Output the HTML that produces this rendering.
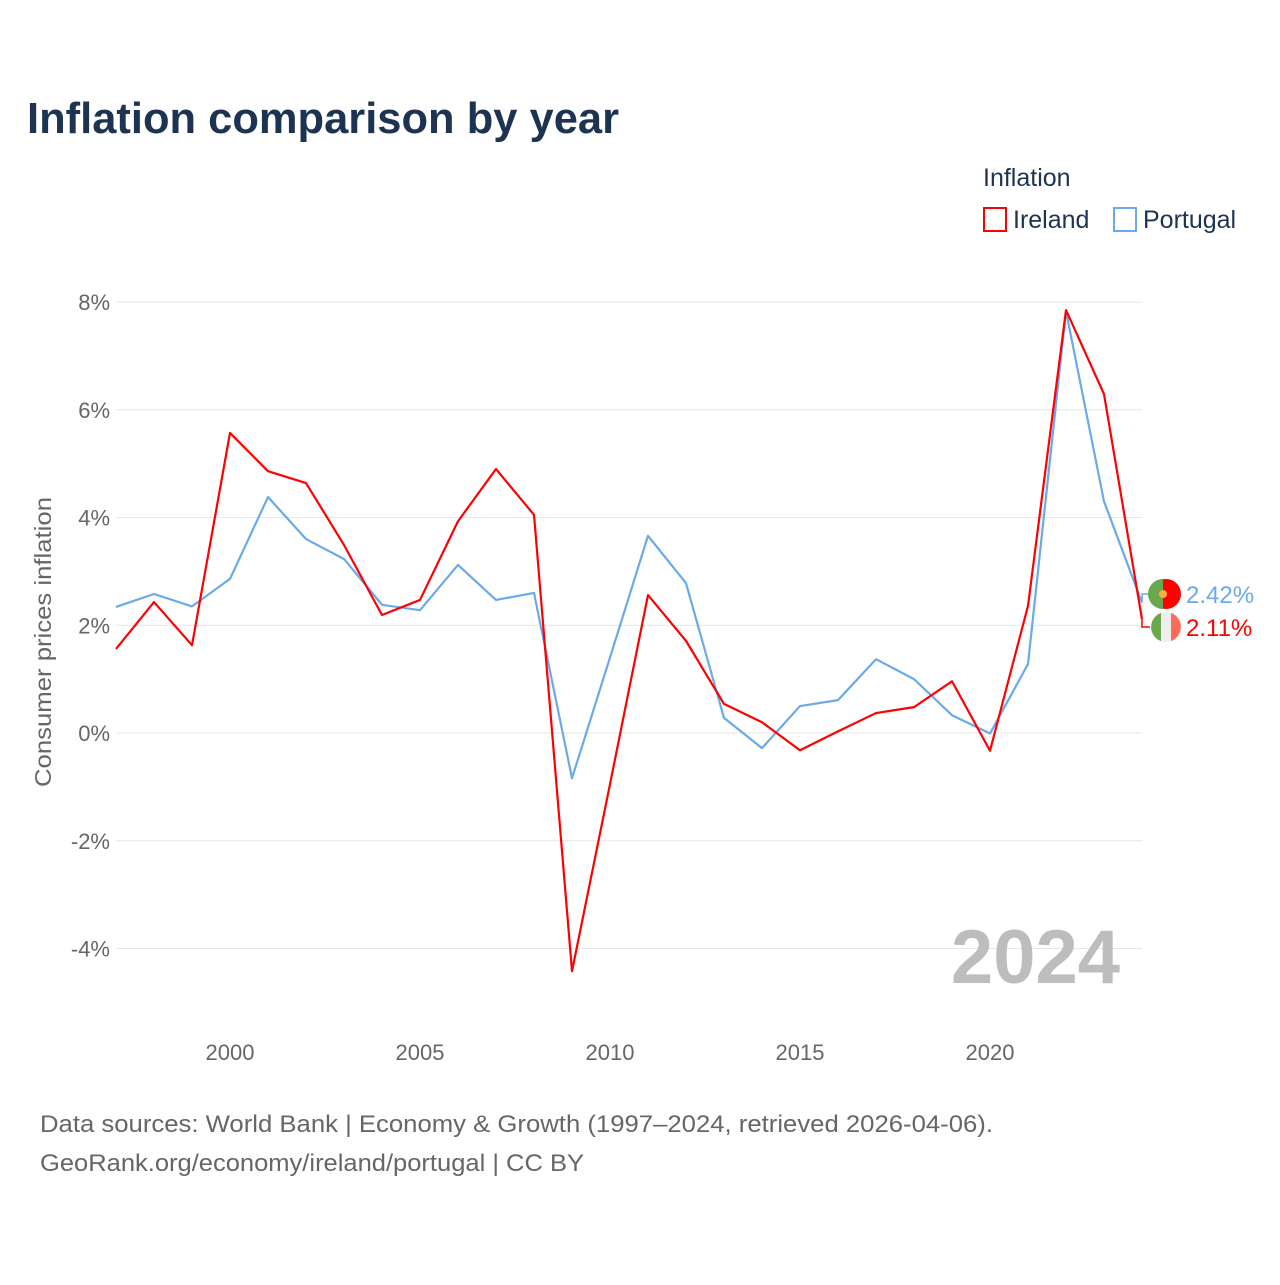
<!DOCTYPE html>
<html><head><meta charset="utf-8"><style>
body{margin:0;background:#fff;width:1280px;height:1280px;overflow:hidden;font-family:"Liberation Sans",sans-serif}
</style></head><body>
<svg id="chart" width="1280" height="1280" xmlns="http://www.w3.org/2000/svg">
<text x="27" y="133" font-size="44" font-weight="bold" fill="#1c3352" textLength="592" lengthAdjust="spacingAndGlyphs">Inflation comparison by year</text>
<text x="983" y="186" font-size="25" fill="#1c3352">Inflation</text>
<g><rect x="984" y="208" width="22" height="23" fill="none" stroke="#ff0000" stroke-width="2"/><text x="1013" y="228" font-size="25" fill="#1c3352">Ireland</text></g>
<g><rect x="1114" y="208" width="22" height="23" fill="none" stroke="#6aa9ea" stroke-width="2"/><text x="1143" y="228" font-size="25" fill="#1c3352">Portugal</text></g>
<g id="grid"></g><g id="xt"></g><g id="lines"></g>
<text transform="translate(51,642) rotate(-90)" text-anchor="middle" font-size="23" fill="#666" textLength="290" lengthAdjust="spacingAndGlyphs">Consumer prices inflation</text>
<text x="1120" y="983" text-anchor="end" font-size="76" font-weight="bold" fill="#bdbdbd">2024</text>
<text x="40" y="1132" font-size="24" fill="#666" textLength="953" lengthAdjust="spacingAndGlyphs">Data sources: World Bank | Economy &amp; Growth (1997–2024, retrieved 2026-04-06).</text>
<text x="40" y="1171" font-size="24" fill="#666" textLength="544" lengthAdjust="spacingAndGlyphs">GeoRank.org/economy/ireland/portugal | CC BY</text>
</svg>
<script>
const years=[1997,1998,1999,2000,2001,2002,2003,2004,2005,2006,2007,2008,2009,2010,2011,2012,2013,2014,2015,2016,2017,2018,2019,2020,2021,2022,2023,2024];
const ireland=[1.56,2.43,1.63,5.57,4.86,4.64,3.49,2.19,2.47,3.93,4.90,4.05,-4.42,-0.95,2.56,1.71,0.54,0.20,-0.32,0.03,0.37,0.48,0.96,-0.33,2.36,7.85,6.29,2.11];
const portugal=[2.34,2.58,2.35,2.86,4.38,3.60,3.23,2.38,2.28,3.12,2.47,2.60,-0.84,1.40,3.66,2.78,0.28,-0.28,0.50,0.61,1.37,1.00,0.33,-0.01,1.28,7.83,4.30,2.42];
const yTicks=[8,6,4,2,0,-2,-4];
const xTicks=[2000,2005,2010,2015,2020];
const NS="http://www.w3.org/2000/svg";
const X=v=>116+(v-1997)*38, Y=v=>733-v*53.875;
function mk(t,a,p){const e=document.createElementNS(NS,t);for(const k in a)e.setAttribute(k,a[k]);p.appendChild(e);return e;}
const g=document.getElementById('grid');
yTicks.forEach(t=>{
 const l=mk('line',{x1:116,x2:1142,y1:Y(t),y2:Y(t),stroke:'#e6e6e6','stroke-width':1},g);
 
 
 const tx=mk('text',{x:110,y:Y(t)+8,'text-anchor':'end','font-size':22,fill:'#666'},g);
 tx.textContent=t+'%';
 
 
});
const xt=document.getElementById('xt');
xTicks.forEach(t=>{
 const tx=mk('text',{x:X(t),y:1060,'text-anchor':'middle','font-size':22,fill:'#666'},xt);
 tx.textContent=t;
 
 
});
const L=document.getElementById('lines');
function series(vals,col,name){
 const p=mk('polyline',{points:vals.map((v,i)=>X(years[i])+','+Y(v)).join(' '),fill:'none',stroke:col,'stroke-width':2.2,'stroke-linejoin':'round'},L);
 
 
}
series(portugal,'#6aa9ea','portugal');
series(ireland,'#ff0000','ireland');
function endLabel(v,ly,col,name,flag){
 const x=X(2024),y=Y(v);
 mk('polyline',{points:`${x},${y} ${x},${ly} ${x+8},${ly}`,fill:'none',stroke:col,'stroke-width':1.5},L);
 const fg=mk('g',{},L);
 
 
 const cx=1166;
 if(flag==='pt'){mk('circle',{cx:cx,cy:ly,r:15,fill:'#ff0000'},fg);mk('path',{d:`M${cx-3},${ly-15} A15,15 0 0,0 ${cx-3},${ly+15} Z`,fill:'#6aa84f'},fg);mk('circle',{cx:cx-3,cy:ly,r:4,fill:'#f5b041'},fg);}
 else{mk('circle',{cx:cx,cy:ly,r:15,fill:'#eee'},fg);mk('path',{d:`M${cx-5},${ly-14.1} A15,15 0 0,0 ${cx-5},${ly+14.1} Z`,fill:'#6aa84f'},fg);mk('path',{d:`M${cx+5},${ly-14.1} A15,15 0 0,1 ${cx+5},${ly+14.1} Z`,fill:'#ff6b5a'},fg);}
 const t=mk('text',{x:1186,y:ly+9,'font-size':24,fill:col},L);
 t.textContent=v.toFixed(2)+'%';
 
 
}
endLabel(portugal[27],594,'#6aa9ea','portugal','pt');
endLabel(ireland[27],627,'#ff0000','ireland','ie');
</script>
</body></html>
